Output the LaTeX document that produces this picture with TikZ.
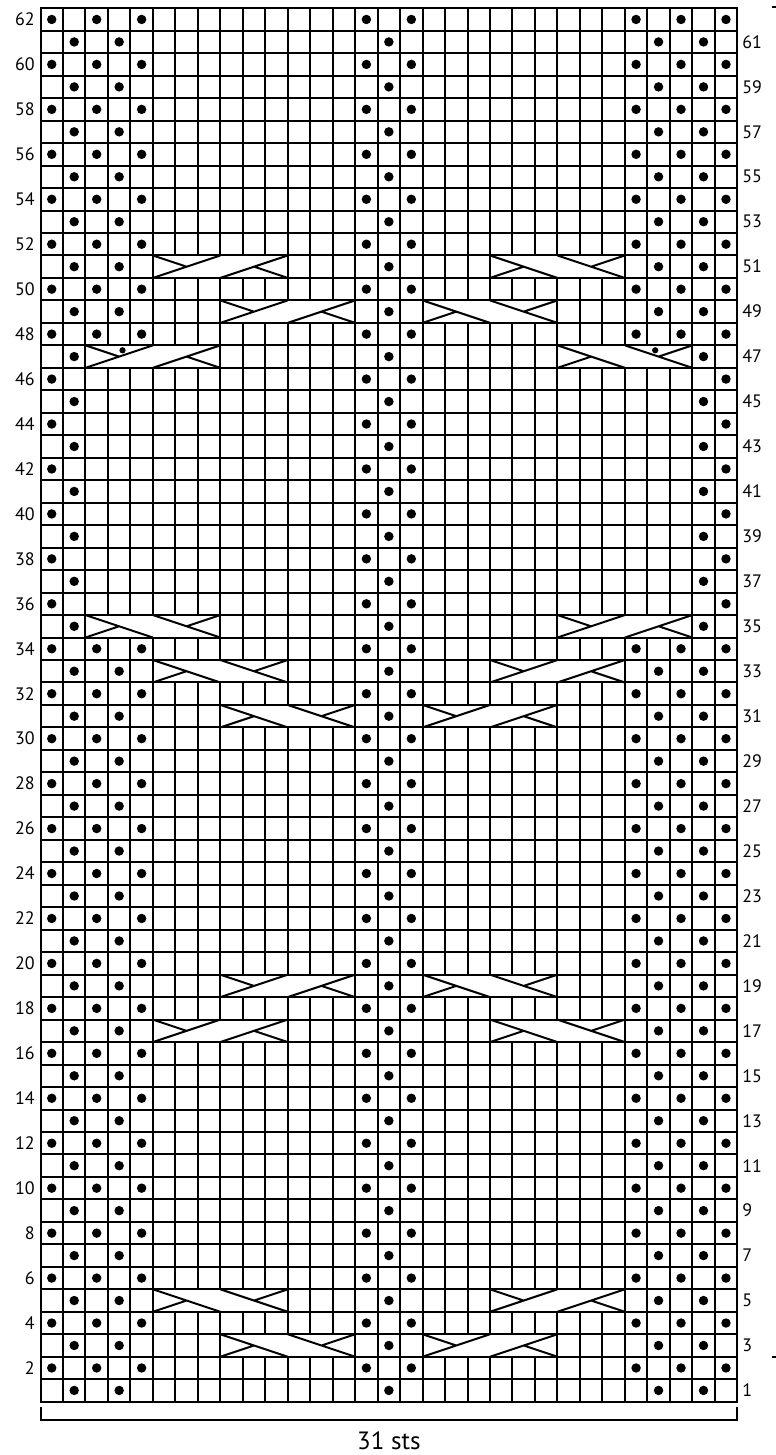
\documentclass[tikz,border=0pt]{standalone}
\usepackage{fontspec}
\setmainfont{PT Sans}

% cable over 6 sts, first st #1, row #2; front strand runs to the right
\newcommand{\cabright}[2]{%
  \fill[white] (#1-1,#2-1) rectangle (#1+5,#2);
  \draw[cabline] (#1-1,#2-1) rectangle (#1+5,#2);
  \draw[cabline] (#1-1,#2-1) -- (#1+2,#2) (#1+2,#2-1) -- (#1+5,#2)
    (#1-1,#2) -- (#1+0.5,#2-0.5) (#1+3.5,#2-0.5) -- (#1+5,#2-1);
}
% same, front strand runs to the left
\newcommand{\cableft}[2]{%
  \fill[white] (#1-1,#2-1) rectangle (#1+5,#2);
  \draw[cabline] (#1-1,#2-1) rectangle (#1+5,#2);
  \draw[cabline] (#1-1,#2) -- (#1+2,#2-1) (#1+2,#2) -- (#1+5,#2-1)
    (#1-1,#2-1) -- (#1+0.5,#2-0.5) (#1+3.5,#2-0.5) -- (#1+5,#2);
}

\begin{document}
\begin{tikzpicture}[
  x=22.475pt, y=22.475pt,
  gridline/.style={line width=2pt},
  cabline/.style={line width=2pt, line join=miter},
  purl/.style={fill=black},
  rowno/.style={font=\fontsize{18}{18}\selectfont, inner sep=0pt},
  sts/.style={font=\fontsize{25}{25}\selectfont, inner sep=0pt}
]
\useasboundingbox (-1.802,-2.372) rectangle (32.725,62.367);

% chart grid
\foreach \c in {1,...,30} \draw[gridline] (\c,0) -- (\c,62);
\foreach \r in {1,...,61} \draw[gridline] (0,\r) -- (31,\r);
\draw[gridline] (0,0) rectangle (31,62);

% purl dots
\foreach \r in {2,4,...,34} \foreach \c in {1,3,5,15,17,27,29,31}
  \fill[purl] (\c-0.5,\r-0.5) circle (0.21);
\foreach \r in {48,50,...,62} \foreach \c in {1,3,5,15,17,27,29,31}
  \fill[purl] (\c-0.5,\r-0.5) circle (0.21);
\foreach \r in {36,38,...,46} \foreach \c in {1,15,17,31}
  \fill[purl] (\c-0.5,\r-0.5) circle (0.21);
\foreach \r in {1,3,...,33} \foreach \c in {2,4,16,28,30}
  \fill[purl] (\c-0.5,\r-0.5) circle (0.21);
\foreach \r in {49,51,...,61} \foreach \c in {2,4,16,28,30}
  \fill[purl] (\c-0.5,\r-0.5) circle (0.21);
\foreach \r in {35,37,...,47} \foreach \c in {2,16,30}
  \fill[purl] (\c-0.5,\r-0.5) circle (0.21);

% cables
\cableft{9}{3}   \cabright{18}{3}
\cableft{6}{5}   \cabright{21}{5}
\cabright{6}{17} \cableft{21}{17}
\cabright{9}{19} \cableft{18}{19}
\cableft{9}{31}  \cabright{18}{31}
\cableft{6}{33}  \cabright{21}{33}
\cableft{3}{35}  \cabright{24}{35}
\cabright{3}{47} \cableft{24}{47}
\cabright{9}{49} \cableft{18}{49}
\cabright{6}{51} \cableft{21}{51}
\fill[purl] (3.65,46.78) circle (0.14);
\fill[purl] (27.35,46.78) circle (0.14);

% row numbers
\foreach \r in {2,4,...,62}
  \node[rowno, anchor=east] (left\r) at (-0.25,\r-0.5) {\r};
\foreach \r in {1,3,...,61}
  \node[rowno, anchor=west] (right\r) at (31.22,\r-0.5) {\r};

% repeat marks
\draw[gridline] (32.53,62.04) -- (33.2,62.04);
\draw[gridline] (32.53,2) -- (33.2,2);

% stitch count
\coordinate (brkL) at (0,-0.24);
\coordinate (brkR) at (31,-0.24);
\draw[gridline] (brkL) -- ++(0,-0.574) -| (brkR);
\node[sts] (count) at (15.5,-1.749) {31 sts};
\end{tikzpicture}
\end{document}
